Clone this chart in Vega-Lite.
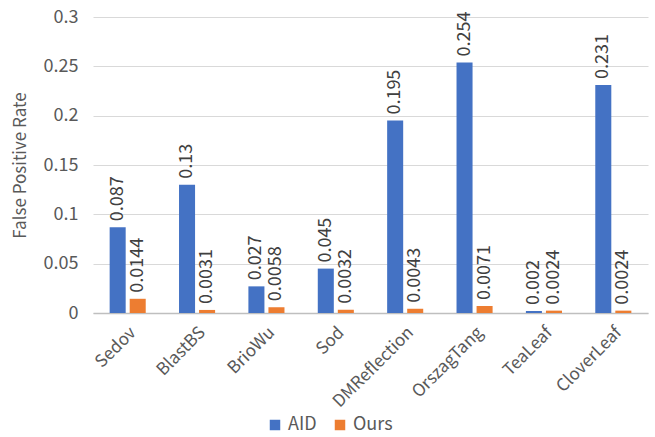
{
  "$schema": "https://vega.github.io/schema/vega-lite/v6.json",
  "width": 555,
  "height": 296,
  "autosize": "none",
  "padding": {"left": 93, "top": 17, "right": 7, "bottom": 124},
  "background": "white",
  "config": {
    "font": "Noto Sans CJK SC",
    "view": {"stroke": null},
    "axis": {"labelColor": "#595959", "titleColor": "#595959", "labelFontSize": 18, "titleFontSize": 17, "titleFontWeight": "normal"},
    "legend": {"labelColor": "#595959", "labelFontSize": 18}
  },
  "data": {
    "values": [
      {"case": "Sedov", "method": "AID", "rate": 0.087},
      {"case": "Sedov", "method": "Ours", "rate": 0.0144},
      {"case": "BlastBS", "method": "AID", "rate": 0.13},
      {"case": "BlastBS", "method": "Ours", "rate": 0.0031},
      {"case": "BrioWu", "method": "AID", "rate": 0.027},
      {"case": "BrioWu", "method": "Ours", "rate": 0.0058},
      {"case": "Sod", "method": "AID", "rate": 0.045},
      {"case": "Sod", "method": "Ours", "rate": 0.0032},
      {"case": "DMReflection", "method": "AID", "rate": 0.195},
      {"case": "DMReflection", "method": "Ours", "rate": 0.0043},
      {"case": "OrszagTang", "method": "AID", "rate": 0.254},
      {"case": "OrszagTang", "method": "Ours", "rate": 0.0071},
      {"case": "TeaLeaf", "method": "AID", "rate": 0.002},
      {"case": "TeaLeaf", "method": "Ours", "rate": 0.0024},
      {"case": "CloverLeaf", "method": "AID", "rate": 0.231},
      {"case": "CloverLeaf", "method": "Ours", "rate": 0.0024}
    ]
  },
  "encoding": {
    "x": {
      "field": "case",
      "type": "nominal",
      "sort": null,
      "scale": {"paddingInner": 0.48, "paddingOuter": 0.24},
      "axis": {
        "title": null,
        "labelAngle": -45,
        "labelAlign": "right",
        "labelBaseline": "top",
        "labelPadding": 11,
        "labelFontSize": 17,
        "ticks": false,
        "domainColor": "#bfbfbf",
        "domainWidth": 1.5,
        "grid": false
      }
    },
    "xOffset": {"field": "method", "type": "nominal", "scale": {"paddingInner": 0.2}},
    "y": {
      "field": "rate",
      "type": "quantitative",
      "scale": {"domain": [0, 0.3], "nice": false},
      "axis": {
        "title": "False Positive Rate",
        "values": [0, 0.05, 0.1, 0.15, 0.2, 0.25, 0.3],
        "format": "~g",
        "domain": false,
        "ticks": false,
        "labelPadding": 15,
        "titlePadding": 14,
        "gridColor": "#d9d9d9",
        "gridWidth": 1
      }
    },
    "color": {
      "field": "method",
      "type": "nominal",
      "scale": {"domain": ["AID", "Ours"], "range": ["#4472c4", "#ed7d31"]},
      "legend": {
        "title": null,
        "orient": "none",
        "direction": "horizontal",
        "legendX": 173,
        "legendY": 399,
        "symbolType": "square",
        "symbolSize": 110,
        "symbolStrokeWidth": 0,
        "columnPadding": 14,
        "labelOffset": 4
      }
    }
  },
  "layer": [
    {"mark": {"type": "bar"}},
    {
      "mark": {"type": "text", "angle": 270, "align": "left", "baseline": "middle", "dx": 6, "fontSize": 18, "color": "#404040"},
      "encoding": {
        "text": {"field": "rate", "type": "quantitative", "format": "~g"},
        "color": {"value": "#404040"}
      }
    }
  ]
}
